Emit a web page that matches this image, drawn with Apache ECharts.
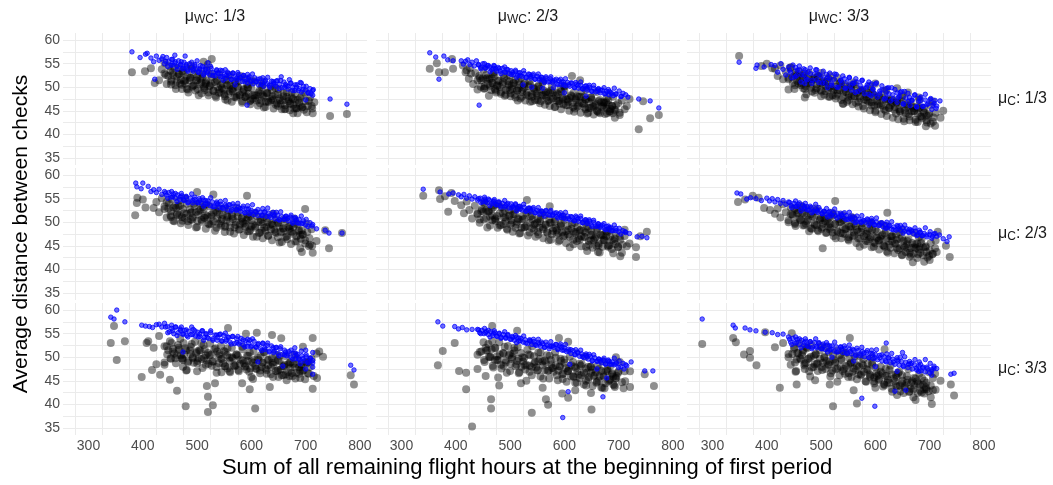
<!DOCTYPE html>
<html>
<head>
<meta charset="utf-8">
<script src="https://cdn.jsdelivr.net/npm/echarts@6/dist/echarts.min.js"></script>
<style>
html,body{margin:0;padding:0;background:#fff;}
#chart{width:1053px;height:485px;}
</style>
</head>
<body>
<div id="chart"></div>
<script>
// ---- labels / ticks ----
const colLabels = ['1/3', '2/3', '3/3'];   // mu_WC facets
const rowLabels = ['1/3', '2/3', '3/3'];   // mu_C facets
const xTickLabels = [300, 400, 500, 600, 700, 800];
const xGridValues = [275, 325, 375, 425, 475, 525, 575, 625, 675, 725, 775];
const yTickLabels = [35, 40, 45, 50, 55, 60];
const yGridValues = [35, 37.5, 40, 42.5, 45, 47.5, 50, 52.5, 55, 57.5, 60];
const xTitle = 'Sum of all remaining flight hours at the beginning of first period';
const yTitle = 'Average distance between checks';

// ---- data: [flight hours, avg distance] ----
// core x positions shared by the third black batch of every panel
const coreX = [447,452,456,463,466,472,476,483,487,492,498,501,506,513,516,521,526,530,537,540,546,551,555,560,566,569,575,579,584,589,594,598,603,607,613,616,621,626,630,636,639,645,649,654,658,663,668,672,677,683,688,694];

// row mu_C 1/3, col mu_WC 1/3
const p11Black = [[380,53.2],[404,53.4],[422,50.9],[677,44.5],[713,44.5],[745,43.9],[776,44.3],[415,54],[440,55.2],[430,51.5],
[435,53.8],[442,52.6],[448,54.5],[452,51.2],[455,53.1],[460,50.4],[463,52.2],[466,54.1],[470,51.6],[472,49.6],[475,53.0],[478,50.8],[481,52.4],[484,48.9],[486,51.5],[489,54.6],[491,50.1],[494,52.8],[497,49.3],[500,51.4],[502,53.4],[505,50.6],[508,48.7],[510,52.1],[513,49.8],[516,51.0],[518,53.6],[521,48.3],[524,50.4],[527,52.2],[530,49.2],[533,51.1],[535,47.8],[538,50.0],[541,52.8],[544,48.8],[547,50.8],[550,49.5],[552,47.4],[555,51.6],[558,48.6],[561,50.2],[564,46.9],[566,49.1],[569,51.3],[572,47.8],[575,49.9],[578,48.3],[580,52.4],[583,46.7],[586,49.4],[589,47.9],[592,50.6],[595,48.6],[598,46.4],[600,49.8],[603,47.5],[606,51.2],[609,48.3],[612,46.1],[615,49.3],[618,47.2],[620,50.4],[623,48.0],[626,45.8],[629,48.9],[632,46.8],[635,50.1],[638,47.6],[641,45.5],[644,48.4],[647,46.6],[650,49.6],[653,47.2],[656,45.3],[659,48.1],[662,46.2],[665,49.0],[668,47.0],[671,45.1],[674,47.8],[677,46.3],[680,48.6],[683,45.6],[686,47.3],[690,46.0],[693,48.2],[697,45.2],[700,47.1],[704,46.0],[708,47.8],[712,45.5],[716,46.8],
[560,52.6],[590,51.8],[620,51.2],[480,54.0],[520,54.8],[527,56.0],[512,55.4]];
const p11BlackB = [[440,52.9],[444,50.7],[451,53.5],[453,51.6],[458,54.2],[461,49.6],[467,52.8],[469,50.8],[473,53.4],[478,51.4],[481,49.7],[488,52.0],[490,53.9],[494,50.4],[500,52.1],[503,48.3],[508,51.0],[510,52.8],[514,49.4],[517,51.4],[523,50.2],[527,52.8],[534,48.2],[536,51.6],[541,49.5],[544,50.4],[550,48.5],[552,51.6],[556,47.2],[561,50.5],[564,49.5],[571,50.9],[573,48.2],[577,51.3],[583,47.0],[586,49.6],[591,48.2],[593,50.0],[597,47.0],[600,51.4],[606,48.3],[610,47.2],[617,48.6],[619,50.1],[623,45.7],[628,48.7],[631,47.0],[638,49.4],[640,47.3],[644,49.9],[649,46.0],[652,47.6],[659,48.7],[661,45.3],[665,47.9],[671,46.5],[674,48.9],[679,45.5],[681,47.3],[685,44.5],[690,47.7],[693,45.7],[699,48.8],[702,44.7],[706,47.1],[711,46.0]];
const p11CoreY = [52.4,50.6,52.6,51.2,52.8,50.5,51.3,49.5,52.0,50.3,51.4,49.6,51.8,50.2,50.7,48.9,50.8,49.3,51.3,48.8,49.8,48.1,50.4,49.1,49.7,47.9,50.1,48.4,49.0,47.9,49.9,47.2,48.3,47.7,48.9,46.6,48.3,46.9,48.7,47.2,48.1,46.3,48.5,46.5,47.2,45.4,47.5,46.6,47.5,45.5,46.7,45.8];
const p11Blue = [[380,57.5],[395,56.3],[405,57.0],[408,57.2],[422,51.7],[592,46.2],[713,48.3],[745,47.5],[776,46.4],[700,47.3],[570,50.5],[548,51.5],
[437,56.5],[459,56.8],[478,56.6],[500,55.6],[520,55.2],
[415,56.2],[420,55.4],[425,56.6],[430,55.7],[435,56.0],[440,55.0],[444,56.3],[448,55.4],[452,54.7],[455,55.9],[459,55.1],[463,54.4],[466,55.6],[470,54.8],[473,53.9],[476,55.3],[480,54.5],[483,53.7],[486,55.0],[490,54.2],[493,53.4],[496,54.8],[500,53.9],[503,53.1],[506,54.6],[510,53.7],[513,52.9],[516,54.3],[520,53.4],[523,52.6],[526,54.0],[530,53.1],[533,52.4],[536,53.7],[540,52.9],[543,52.2],[546,53.5],[550,52.7],[553,51.9],[556,53.2],[560,52.4],[563,51.7],[566,53.0],[570,52.2],[573,51.4],[576,52.7],[580,51.9],[583,51.2],[586,52.5],[590,51.7],[593,50.9],[596,52.2],[600,51.4],[603,50.7],[606,52.0],[610,51.2],[613,50.5],[616,51.8],[620,51.0],[623,50.2],[626,51.5],[630,50.7],[634,50.0],[637,51.3],
[641,50.9],[645,50.2],[648,51.4],[652,50.6],[656,49.9],[660,51.1],[664,50.3],[668,49.6],[672,50.8],[676,50.0],[680,49.3],[684,50.5],[688,49.7],[692,49.0],[696,50.2],[700,49.4],[705,48.8],[690,51.0],[670,51.6],[655,52.2],[710,48.6],[714,49.5]];
const p11BlueB = [[442,55.5],[446,54.4],[453,55.9],[455,54.7],[460,55.4],[463,53.8],[469,54.7],[471,55.4],[475,54.0],[480,54.8],[483,53.4],[490,55.3],[492,53.8],[496,54.5],[502,53.3],[505,53.9],[510,54.4],[512,52.6],[516,53.8],[519,53.1],[525,54.4],[529,52.5],[536,53.5],[538,53.0],[543,53.6],[546,52.3],[552,53.7],[554,52.5],[558,52.9],[563,51.6],[566,53.0],[573,51.9],[575,53.1],[579,52.1],[585,52.5],[588,51.2],[593,52.7],[595,51.9],[599,51.2],[602,52.8],[608,51.2],[612,51.7],[619,50.6],[621,52.0],[625,51.2],[630,52.1],[633,50.4],[640,51.2],[642,50.6],[646,51.3],[651,49.7],[654,51.4],[661,50.0],[663,50.6],[667,50.2],[673,50.9],[676,49.3],[681,50.5],[683,50.0],[687,49.3],[692,50.9],[695,49.5],[701,50.2],[704,48.8],[708,49.7],[713,49.3]];

// row mu_C 1/3, col mu_WC 2/3
const p12Black = [[352,53.9],[365,55.1],[369,53.2],[380,53.2],[395,53.9],[393,56.0],[737,41.1],[758,43.4],[774,44.1],[702,44.1],[689,44.5],[715,46.0],[695,46.2],[678,47.7],[629,51.5],[614,52.4],[720,47.5],[745,47.0],
[413,54.6],[418,53.2],[426,54.1],[420,53.6],[424,51.8],[428,52.9],
[432,50.7],[436,53.0],[440,51.5],[443,52.4],[446,50.1],[450,51.9],[453,49.8],[456,52.6],[459,50.7],[462,51.8],[465,49.4],[468,50.9],[471,52.3],[474,48.9],[477,50.3],[480,51.4],[483,49.0],[486,50.6],[489,52.0],[492,48.4],[495,49.9],[498,51.2],[501,48.1],[504,49.6],[507,50.9],[510,47.8],[513,49.3],[516,51.2],[519,47.6],[522,49.0],[525,50.5],[528,47.2],[531,48.8],[534,50.2],[537,46.9],[540,48.5],[543,49.9],[546,47.3],[549,48.7],[552,50.3],[555,46.6],[558,48.2],[561,49.4],[564,46.3],[567,47.8],[570,49.0],[573,46.0],[576,47.5],[579,48.8],[582,45.8],[585,47.2],[588,48.5],[591,46.5],[594,45.3],[597,47.8],[600,49.2],[603,46.2],[606,47.4],[609,45.0],[612,48.3],[615,46.7],[618,44.8],[621,47.3],[624,45.9],[627,48.0],[630,44.6],[633,46.6],[636,47.9],[639,45.3],[642,44.4],[645,46.9],[648,45.6],[651,47.4],[654,44.2],[657,46.2],[660,45.0],[663,47.0],[666,44.5],[669,45.8],[672,46.8],[675,44.3],[678,45.5],[681,46.3],[684,44.9],[688,46.0],[692,45.2],
[470,53.2],[520,52.0],[560,51.0],[600,50.3],[640,49.4],[500,52.5]];
const p12BlackB = [[440,49.5],[444,51.9],[451,53.7],[453,50.2],[458,52.0],[461,48.2],[467,50.9],[469,52.7],[473,49.3],[478,51.3],[481,50.1],[488,52.7],[490,48.2],[494,51.5],[500,49.4],[503,50.3],[508,48.4],[510,51.6],[514,47.2],[517,50.5],[523,49.5],[527,50.9],[534,48.2],[536,51.3],[541,47.0],[544,49.6],[550,48.2],[552,50.1],[556,47.1],[561,51.4],[564,48.4],[571,47.2],[573,48.7],[577,50.2],[583,45.8],[586,48.8],[591,47.1],[593,49.6],[597,47.5],[600,50.1],[606,46.2],[610,47.7],[617,48.8],[619,45.5],[623,48.1],[628,46.7],[631,49.1],[638,45.7],[640,47.4],[644,44.6],[649,47.8],[652,45.9],[659,49.0],[661,44.9],[665,47.3],[671,46.1],[674,46.7],[679,44.5],[681,47.3],[685,45.4],[690,48.0],[693,43.5],[699,46.6],[702,44.6],[706,47.2],[711,45.3]];
const p12CoreY = [51.5,49.7,51.7,50.3,51.9,49.6,50.4,48.6,51.1,49.4,50.5,48.7,50.9,49.3,49.8,48.0,49.9,48.4,50.5,48.0,49.0,47.3,49.6,48.3,48.9,47.1,49.3,47.6,48.2,47.1,49.1,46.4,47.5,46.9,48.1,45.8,47.6,46.2,48.0,46.5,47.4,45.6,47.8,45.8,46.5,44.7,46.8,45.9,46.8,44.8,46.0,45.1];
const p12Blue = [[352,57.3],[363,56.4],[369,51.7],[443,46.2],[737,47.5],[758,47.1],[774,45.6],[717,47.9],[705,48.1],[695,48.5],[524,50.5],[540,50.0],[560,49.8],[580,49.9],[600,48.8],[640,48.1],[378,56.6],[385,55.8],[395,55.6],
[410,55.6],[414,54.9],[418,55.5],[422,55.8],[426,54.8],[430,55.3],[434,54.5],[438,55.6],[442,54.7],[446,54.2],[450,55.0],[454,54.0],[458,54.6],[462,54.3],[466,53.7],[470,54.6],[474,53.9],[478,54.2],[482,53.4],[486,54.0],[490,53.2],[494,53.8],[498,52.9],[502,53.5],[506,52.7],[510,53.3],[514,52.5],[518,53.1],[522,52.3],[526,52.9],[530,52.1],[534,52.8],[538,51.9],[542,52.5],[546,51.7],[550,52.3],[554,51.5],[558,52.1],[562,51.3],[566,51.9],[570,51.1],[574,51.8],[578,51.0],[582,51.5],[586,50.7],[590,51.4],[594,50.5],[598,51.1],[602,50.3],[606,51.0],[610,50.2],[614,50.9],[618,50.0],[622,50.6],[626,49.8],[630,50.4],[634,49.6],[638,50.2],[642,49.4],[646,50.0],[650,49.2],[654,49.8],[658,49.0],[662,49.6],[666,48.8],[670,49.4],[674,48.6],[678,49.1],[682,48.4],[686,48.9],[690,48.2]];
const p12BlueB = [[442,54.8],[446,53.9],[453,55.0],[455,54.1],[460,54.6],[463,53.3],[469,54.0],[471,54.5],[475,53.4],[480,54.0],[483,52.9],[490,54.3],[492,53.2],[496,53.7],[502,52.7],[505,53.1],[510,53.6],[512,52.1],[516,53.0],[519,52.5],[525,53.5],[529,52.0],[536,52.7],[538,52.3],[543,52.8],[546,51.7],[552,52.8],[554,51.8],[558,52.1],[563,51.0],[566,52.2],[573,51.2],[575,52.2],[579,51.3],[585,51.7],[588,50.6],[593,51.7],[595,51.1],[599,50.5],[602,51.8],[608,50.5],[612,50.9],[619,49.9],[621,51.0],[625,50.4],[630,51.1],[633,49.7],[640,50.3],[642,49.8],[646,50.4],[651,49.1],[654,50.4],[661,49.2],[663,49.7],[667,49.3],[673,49.9],[676,48.6],[681,49.5],[683,49.1],[687,48.6],[692,49.8],[695,48.6],[701,49.2],[704,48.0],[708,48.7],[713,48.4]];

// row mu_C 1/3, col mu_WC 3/3
const p13Black = [[349,56.6],[710,41.8],[678,42.6],[390,54.5],[400,55.0],[410,54.0],[695,42.5],[720,43.5],[725,45.0],[705,47.0],[440,49.5],[470,47.8],[540,46.5],
[415,53.9],[420,52.4],[425,54.6],[430,51.7],[435,53.3],[440,52.0],[444,54.2],[448,50.9],[452,52.6],[456,51.3],[460,53.4],[463,50.4],[467,52.0],[470,49.6],[474,51.4],[478,53.0],[481,49.9],[485,51.7],[488,48.8],[492,50.6],[495,52.3],[499,49.4],[502,51.1],[506,48.4],[509,50.3],[513,51.9],[516,48.0],[520,49.7],[523,51.3],[527,47.6],[530,49.3],[534,50.8],[537,47.3],[541,48.9],[544,50.5],[548,46.9],[551,48.5],[555,50.1],[558,46.4],[562,48.1],[565,49.7],[569,45.9],[572,47.6],[576,49.3],[579,45.5],[583,47.3],[586,48.8],[590,45.1],[593,46.8],[597,48.4],[600,44.7],[604,46.4],[607,48.0],[611,44.3],[614,46.0],[618,47.5],[621,43.9],[625,45.6],[628,47.2],[632,43.5],[635,45.2],[639,46.8],[642,43.2],[646,44.8],[649,46.4],[653,42.8],[656,44.5],[660,46.0],[663,43.0],[667,44.9],[670,45.6],[674,42.6],[678,44.3],[682,45.7],[686,43.4],[690,44.6],[694,43.0],[698,44.0],[702,42.3],[707,43.6],
[560,51.0],[590,50.2],[620,49.4],[650,48.3],[600,50.8],[530,52.0],[500,53.0],[660,48.9],[680,47.8],[640,49.8]];
const p13BlackB = [[440,51.7],[444,54.2],[451,49.6],[453,53.0],[458,50.8],[461,51.7],[467,49.8],[469,52.9],[473,48.5],[478,51.7],[481,50.7],[488,52.0],[490,49.4],[494,52.4],[500,48.1],[503,50.7],[508,49.2],[510,51.1],[514,48.0],[517,52.4],[523,49.3],[527,48.2],[534,49.4],[536,51.0],[541,46.5],[544,49.5],[550,47.8],[552,50.2],[556,48.1],[561,50.6],[564,46.7],[571,48.1],[573,49.4],[577,46.0],[583,48.5],[586,47.1],[591,49.4],[593,46.1],[597,47.8],[600,45.0],[606,48.1],[610,46.1],[617,49.2],[619,45.0],[623,47.4],[628,46.2],[631,46.7],[638,44.4],[640,47.3],[644,45.3],[649,47.9],[652,43.3],[659,46.4],[661,44.3],[665,46.9],[671,44.9],[674,43.1],[679,45.5],[681,47.3],[685,43.8],[690,45.6],[693,41.7],[699,44.4],[702,46.1],[706,42.7],[711,44.6]];
const p13CoreY = [52.2,50.4,52.4,50.9,52.5,50.2,50.9,49.1,51.6,49.8,50.9,49.1,51.2,49.6,50.1,48.3,50.1,48.6,50.5,48.0,49.0,47.3,49.5,48.2,48.8,46.9,49.1,47.4,47.9,46.8,48.8,46.1,47.1,46.5,47.7,45.3,47.0,45.6,47.4,45.8,46.7,44.9,47.0,45.0,45.7,43.8,45.9,45.0,45.9,43.8,45.0,44.0];
const p13Blue = [[349,55.3],[382,54.7],[395,54.3],[408,54.8],[470,50.8],[380,54.0],[719,47.1],[712,45.5],
[415,54.6],[420,53.2],[426,55.0],[430,53.8],[435,52.6],[440,54.3],[444,53.1],[448,54.7],[452,52.2],[456,53.6],[460,54.5],[464,52.6],[468,53.9],[472,51.8],[476,53.2],[480,54.1],[484,51.5],[488,52.8],[492,53.7],[496,51.0],[500,52.4],[504,53.4],[508,50.8],[512,52.0],[516,53.0],[520,50.4],[524,51.7],[528,52.7],[532,50.0],[536,51.4],[540,52.4],[544,49.8],[548,51.1],[552,52.1],[556,49.4],[560,50.8],[564,51.8],[568,49.1],[572,50.4],[576,51.5],[580,48.6],[584,50.0],[588,51.1],[592,48.2],[596,49.6],[600,50.7],[604,47.9],[608,49.2],[612,50.3],[616,47.5],[620,48.8],[624,49.9],[628,47.1],[632,48.4],[636,49.5],[640,46.8],[644,48.0],[648,49.1],[652,46.4],[656,47.7],[660,48.7],[664,46.1],[668,47.3],[672,48.3],[676,45.8],[680,47.0],[684,47.9],[688,45.9],[692,47.3],[697,46.5],[702,47.6],[706,46.2],[710,47.2]];
const p13BlueB = [[442,53.6],[446,52.0],[453,54.2],[455,52.5],[460,53.6],[463,51.1],[469,52.7],[471,53.7],[475,51.6],[480,52.9],[483,50.8],[490,53.7],[492,51.6],[496,52.7],[502,50.9],[505,51.7],[510,52.7],[512,49.9],[516,51.8],[519,50.8],[525,52.8],[529,50.0],[536,51.5],[538,50.8],[543,51.8],[546,49.8],[552,52.0],[554,50.2],[558,50.9],[563,48.9],[566,51.1],[573,49.5],[575,51.4],[579,49.8],[585,50.5],[588,48.5],[593,50.7],[595,49.6],[599,48.6],[602,50.9],[608,48.6],[612,49.4],[619,47.7],[621,49.8],[625,48.6],[630,49.9],[633,47.5],[640,48.8],[642,47.8],[646,48.9],[651,46.5],[654,49.1],[661,47.0],[663,47.8],[667,47.2],[673,48.4],[676,45.9],[681,47.7],[683,47.1],[687,46.0],[692,48.5],[695,46.3],[701,47.4],[704,45.3],[708,46.6],[713,46.0]];

// row mu_C 2/3, col mu_WC 1/3
const p21Black = [[386,51.5],[389,54.1],[390,55.2],[400,54.8],[405,53.1],[420,53.0],[500,56.4],[530,55.9],[592,55.6],[693,43.7],[713,43.5],[743,44.5],[767,47.7],[736,48.3],[699,52.8],[720,46.0],[708,45.2],[690,44.5],
[425,54.3],[430,52.1],[435,55.1],[440,53.4],[444,51.0],[448,54.0],[452,52.4],[456,50.3],[460,53.5],[463,51.6],[467,54.6],[470,49.8],[474,52.8],[477,50.9],[481,53.9],[484,49.4],[488,52.0],[491,50.5],[495,53.4],[498,48.9],[502,51.6],[505,54.0],[509,50.1],[512,52.7],[516,48.6],[519,51.2],[523,53.4],[526,49.7],[530,52.0],[533,48.2],[537,50.8],[540,53.0],[544,49.3],[547,51.6],[551,47.9],[554,50.4],[558,52.6],[561,48.9],[565,51.2],[568,47.6],[572,50.0],[575,52.1],[579,48.5],[582,50.8],[586,47.3],[589,49.6],[593,51.7],[596,48.1],[600,50.4],[603,46.9],[607,49.2],[610,51.3],[614,47.7],[617,50.0],[621,46.6],[624,48.8],[628,50.9],[631,47.2],[635,49.5],[638,46.2],[642,48.4],[645,50.6],[649,46.8],[652,49.1],[656,45.8],[659,48.0],[663,50.2],[666,46.4],[670,48.6],[673,45.4],[677,47.5],[680,49.6],[684,45.9],[687,48.1],[691,46.5],[695,47.4],[699,45.5],[703,47.9],[707,46.6],[712,45.0]];
const p21BlackB = [[440,52.8],[444,54.3],[451,51.4],[453,54.9],[458,50.2],[461,53.0],[467,51.5],[469,53.5],[473,50.3],[478,55.1],[481,51.8],[488,50.6],[490,52.1],[494,53.9],[500,49.0],[503,52.3],[508,50.5],[510,53.2],[514,50.9],[517,53.8],[523,49.5],[527,51.2],[534,52.5],[536,48.8],[541,51.7],[544,50.2],[550,52.9],[552,49.2],[556,51.1],[561,48.0],[564,51.6],[571,49.4],[573,53.0],[577,48.4],[583,51.0],[586,49.8],[591,50.4],[593,48.1],[597,51.2],[600,49.1],[606,52.0],[610,46.9],[617,50.5],[619,48.2],[623,51.1],[628,49.0],[631,47.1],[638,49.7],[640,51.8],[644,47.9],[649,49.9],[652,45.7],[659,48.7],[661,50.7],[665,47.0],[671,49.2],[674,47.9],[679,50.8],[681,45.9],[685,49.6],[690,47.3],[693,48.3],[699,46.2],[702,49.7],[706,44.9],[711,48.5]];
const p21CoreY = [52.9,51.1,53.1,51.8,53.4,51.1,51.9,50.2,52.7,51.0,52.1,50.3,52.6,51.0,51.5,49.7,51.6,50.2,52.2,49.7,50.7,49.0,51.4,50.1,50.7,48.9,51.2,49.5,50.1,49.0,51.0,48.4,49.5,48.9,50.1,47.8,49.6,48.2,50.0,48.5,49.4,47.7,49.9,47.9,48.6,46.8,49.0,48.1,49.0,47.0,48.3,47.4];
const p21Blue = [[387,58.3],[389,57.5],[400,58.3],[397,57.1],[410,57.6],[415,56.5],[736,48.3],[743,47.7],[767,47.7],[720,48.6],[712,49.2],
[420,56.9],[425,56.3],[430,57.0],[435,55.9],[440,56.5],[444,55.7],[448,56.3],[452,55.3],[456,56.0],[460,55.1],[464,55.8],[468,54.8],[472,55.6],[476,54.6],[480,55.3],[484,54.3],[488,55.1],[492,54.1],[496,54.8],
[500,54.2],[504,55.0],[508,54.0],[512,54.7],[516,53.8],[520,54.5],[524,53.5],[528,54.3],[532,53.3],[536,54.0],[540,53.1],[544,53.8],[548,52.9],[552,53.6],[556,52.6],
[560,53.7],[564,52.7],[568,53.4],[572,52.5],[576,53.2],[580,52.3],[584,53.0],[588,52.0],[592,52.8],[596,51.8],[600,52.5],[604,51.6],[608,52.3],[612,51.4],[616,52.1],
[620,51.4],[624,52.2],[628,51.2],[632,51.9],[636,51.0],[640,51.7],[644,50.7],[648,51.5],[652,50.5],[656,51.2],
[660,50.6],[664,51.3],[668,50.3],[672,51.1],[676,50.1],[680,50.8],[684,49.9],[688,50.6],[692,49.7],[696,50.3],[700,49.4]];
const p21BlueB = [[442,56.2],[446,55.1],[453,56.5],[455,55.4],[460,56.1],[463,54.4],[469,55.4],[471,56.1],[475,54.7],[480,55.5],[483,54.1],[490,56.0],[492,54.6],[496,55.3],[502,54.1],[505,54.6],[510,55.2],[512,53.4],[516,54.6],[519,53.9],[525,55.2],[529,53.3],[536,54.3],[538,53.8],[543,54.4],[546,53.1],[552,54.6],[554,53.3],[558,53.7],[563,52.4],[566,53.9],[573,52.7],[575,54.0],[579,52.9],[585,53.4],[588,52.0],[593,53.5],[595,52.8],[599,52.1],[602,53.7],[608,52.1],[612,52.7],[619,51.5],[621,52.9],[625,52.1],[630,53.0],[633,51.3],[640,52.1],[642,51.4],[646,52.1],[651,50.5],[654,52.2],[661,50.7],[663,51.2],[667,50.8],[673,51.5],[676,49.8],[681,51.0],[683,50.5],[687,49.8],[692,51.3],[695,49.8],[701,50.6],[704,49.1],[708,49.9],[713,49.5]];

// row mu_C 2/3, col mu_WC 2/3
const p22Black = [[340,55.6],[369,56.8],[371,54.9],[386,52.2],[392,56.2],[642,43.9],[662,43.7],[703,42.8],[732,42.6],[732,44.7],[752,48.0],[531,54.7],[573,53.4],[740,47.0],[720,45.5],[380,55.5],[398,54.5],
[410,53.6],[415,51.9],[420,54.4],[425,52.6],[430,50.8],[435,53.5],[440,51.7],[444,49.9],[448,52.8],[452,54.3],[456,50.9],[460,52.3],[463,49.3],[467,51.5],[470,53.6],[474,50.2],[477,48.8],[481,51.9],[484,53.2],[488,49.6],[491,51.0],[495,48.4],[498,52.6],[502,50.4],[505,48.0],[509,51.7],[512,49.5],[516,53.0],[519,47.7],[523,50.6],[526,48.9],[530,52.0],[533,47.2],[537,49.9],[540,51.4],[544,48.4],[547,46.9],[551,50.7],[554,48.9],[558,51.9],[561,46.6],[565,49.4],[568,47.9],[572,50.6],[575,46.3],[579,48.7],[582,50.1],[586,47.4],[589,45.9],[593,49.3],[596,47.8],[600,50.5],[603,45.6],[607,48.4],[610,46.9],[614,49.6],[617,45.3],[621,47.6],[624,49.0],[628,46.3],[631,44.9],[635,48.2],[638,46.8],[642,49.1],[645,45.2],[649,47.3],[652,44.6],[656,46.6],[659,48.4],[663,45.5],[666,47.4],[670,44.8],[673,46.4],[677,48.1],[680,45.0],[684,46.9],[687,44.3],[691,46.0],[695,47.6],[699,44.7],[703,46.3],[707,45.2],[711,47.1],[715,44.9]];
const p22BlackB = [[440,51.9],[444,50.6],[451,52.2],[453,53.9],[458,48.9],[461,52.4],[467,50.4],[469,53.2],[473,50.8],[478,53.8],[481,49.3],[488,51.0],[490,52.5],[494,48.6],[500,51.5],[503,49.9],[508,52.7],[510,48.8],[514,50.8],[517,47.6],[523,51.3],[527,49.0],[534,52.6],[536,47.8],[541,50.6],[544,49.4],[550,49.9],[552,47.4],[556,50.7],[561,48.5],[564,51.5],[571,46.2],[573,49.9],[577,47.5],[583,50.5],[586,48.3],[591,46.2],[593,49.1],[597,51.2],[600,47.2],[606,49.2],[610,44.7],[617,47.9],[619,49.9],[623,46.0],[628,48.3],[631,47.0],[638,49.9],[640,44.8],[644,48.6],[649,46.2],[652,47.3],[659,45.0],[661,48.6],[665,43.6],[671,47.3],[674,46.2],[679,47.8],[681,44.8],[685,48.4],[690,43.4],[693,46.5],[699,44.8],[702,46.9],[706,43.5],[711,48.4]];
const p22CoreY = [52.4,50.6,52.6,51.2,52.8,50.5,51.3,49.4,51.9,50.2,51.3,49.5,51.7,50.1,50.6,48.8,50.7,49.2,51.2,48.7,49.6,47.9,50.2,48.9,49.5,47.7,49.9,48.2,48.8,47.7,49.7,47.0,48.1,47.4,48.6,46.3,48.0,46.6,48.4,46.9,47.8,46.0,48.2,46.2,46.9,45.1,47.2,46.2,47.1,45.1,46.3,45.4];
const p22Blue = [[340,57.0],[371,56.4],[387,56.0],[395,56.2],[405,55.8],[734,46.9],[752,46.7],[743,47.0],[720,47.6],[712,48.0],
[410,55.4],[415,55.9],[420,55.1],[425,55.6],[430,54.9],[435,55.4],[440,54.7],[445,55.1],[450,54.3],[454,54.9],[458,54.1],[462,54.7],[466,53.9],[470,54.5],[474,53.7],[478,54.3],[482,53.5],[486,54.0],[490,53.2],[494,53.8],[498,53.0],
[502,53.9],[506,53.1],[510,53.7],[514,52.9],[518,53.4],[522,52.6],[526,53.2],[530,52.4],[534,53.0],[538,52.2],[542,52.8],[546,52.0],[550,52.5],[554,51.7],[558,52.3],
[562,51.8],[566,52.4],[570,51.6],[574,52.2],[578,51.4],[582,51.9],[586,51.2],[590,51.7],[594,51.0],[598,51.5],[602,50.7],[606,51.3],[610,50.5],[614,51.1],[618,50.3],
[622,51.0],[626,50.2],[630,50.8],[634,49.9],[638,50.5],[642,49.7],[646,50.2],[650,49.4],[654,50.0],[658,49.1],[662,49.7],[666,48.9],[670,49.4],[674,48.6],[678,49.1],[682,48.4],[686,48.9],[690,48.2],[695,48.7],[700,48.0]];
const p22BlueB = [[442,55.0],[446,54.2],[453,55.3],[455,54.4],[460,54.9],[463,53.5],[469,54.3],[471,54.8],[475,53.7],[480,54.3],[483,53.2],[490,54.6],[492,53.5],[496,54.0],[502,53.0],[505,53.4],[510,53.9],[512,52.4],[516,53.3],[519,52.8],[525,53.8],[529,52.3],[536,53.0],[538,52.6],[543,53.1],[546,52.0],[552,53.1],[554,52.1],[558,52.4],[563,51.3],[566,52.5],[573,51.5],[575,52.5],[579,51.6],[585,52.0],[588,50.9],[593,52.0],[595,51.4],[599,50.9],[602,52.1],[608,50.8],[612,51.2],[619,50.3],[621,51.3],[625,50.7],[630,51.3],[633,49.9],[640,50.5],[642,50.0],[646,50.5],[651,49.1],[654,50.4],[661,49.2],[663,49.6],[667,49.2],[673,49.7],[676,48.4],[681,49.2],[683,48.8],[687,48.2],[692,49.4],[695,48.2],[701,48.7],[704,47.5],[708,48.2],[713,47.8]];

// row mu_C 2/3, col mu_WC 3/3
const p23Black = [[347,54.3],[374,55.6],[385,55.2],[406,52.6],[415,51.8],[503,44.5],[526,54.5],[622,52.0],[737,42.6],[713,43.7],[669,41.5],[715,48.0],[360,54.8],[395,53.0],[730,45.0],[700,42.0],
[420,52.9],[425,51.0],[430,53.8],[435,52.1],[440,50.4],[444,53.2],[448,51.4],[452,49.6],[456,52.6],[460,50.8],[463,53.5],[467,49.3],[470,51.9],[474,50.2],[477,52.8],[481,48.7],[484,51.2],[488,49.6],[491,52.3],[495,48.1],[498,50.7],[502,49.0],[505,51.8],[509,47.7],[512,50.1],[516,48.5],[519,51.2],[523,47.1],[526,49.6],[530,48.0],[533,50.7],[537,46.6],[540,49.0],[544,47.5],[547,50.2],[551,46.1],[554,48.5],[558,47.0],[561,49.7],[565,45.6],[568,48.0],[572,46.5],[575,49.1],[579,45.2],[582,47.5],[586,46.0],[589,48.6],[593,44.7],[596,47.0],[600,45.5],[603,48.0],[607,44.2],[610,46.5],[614,45.1],[617,47.6],[621,43.8],[624,46.0],[628,44.6],[631,47.0],[635,43.4],[638,45.5],[642,44.1],[645,46.5],[649,43.0],[652,45.0],[656,43.7],[659,46.0],[663,42.7],[666,44.6],[670,43.3],[673,45.3],[677,42.4],[680,44.2],[684,45.6],[688,43.0],[692,44.7],[696,42.5],[700,44.0],[705,43.2],[710,44.5],
[520,52.0],[560,50.8],[590,50.0],[620,49.2],[650,48.3],[680,46.8],[540,51.5],[610,49.6]];
const p23BlackB = [[440,50.0],[444,51.7],[451,52.9],[453,49.2],[458,52.0],[461,50.5],[467,53.1],[469,49.4],[473,51.3],[478,48.1],[481,51.7],[488,49.4],[490,52.9],[494,48.3],[500,50.9],[503,49.7],[508,50.2],[510,47.8],[514,50.9],[517,48.8],[523,51.6],[527,46.6],[534,50.0],[536,47.7],[541,50.5],[544,48.5],[550,46.4],[552,49.1],[556,51.1],[561,47.2],[564,49.2],[571,44.8],[573,47.9],[577,49.8],[583,46.0],[586,48.2],[591,46.8],[593,49.7],[597,44.8],[600,48.4],[606,46.1],[610,47.0],[617,44.8],[619,48.3],[623,43.5],[628,47.0],[631,46.0],[638,47.4],[640,44.5],[644,47.9],[649,43.1],[652,46.0],[659,44.4],[661,46.4],[665,43.1],[671,47.7],[674,44.5],[679,43.2],[681,44.8],[685,46.4],[690,41.6],[693,44.9],[699,42.9],[702,45.6],[706,43.3],[711,46.1]];
const p23CoreY = [51.7,49.9,51.9,50.4,52.0,49.7,50.5,48.6,51.1,49.4,50.4,48.6,50.8,49.2,49.6,47.8,49.7,48.2,50.1,47.6,48.6,46.8,49.1,47.8,48.4,46.5,48.7,47.0,47.6,46.4,48.4,45.7,46.7,46.1,47.3,45.0,46.6,45.2,47.0,45.5,46.3,44.5,46.7,44.7,45.3,43.5,45.6,44.7,45.5,43.5,44.7,43.7];
const p23Blue = [[345,56.2],[352,56.0],[363,54.9],[370,55.2],[380,55.0],[390,54.6],[736,46.9],[732,45.9],[718,47.3],[725,46.5],
[400,55.1],[405,54.5],[410,55.0],[415,54.3],[420,54.8],[425,54.0],[430,54.6],[435,53.8],[440,54.3],[445,53.5],[450,54.0],[454,53.3],[458,53.8],[462,53.0],[466,53.6],[470,52.8],[474,53.3],[478,52.6],[482,53.1],[486,52.3],[490,52.8],[494,52.1],[498,52.6],[502,51.8],[506,52.3],[510,51.6],[514,52.1],[518,51.3],
[522,52.1],[526,51.4],[530,51.9],[534,51.1],[538,51.6],[542,50.9],[546,51.4],[550,50.6],[554,51.1],[558,50.4],[562,50.9],[566,50.1],[570,50.6],[574,49.9],[578,50.4],
[582,50.0],[586,50.5],[590,49.8],[594,50.3],[598,49.5],[602,50.0],[606,49.3],[610,49.8],[614,49.0],[618,49.5],[622,48.8],[626,49.3],[630,48.5],[634,49.0],[638,48.3],
[642,49.1],[646,48.3],[650,48.8],[654,48.1],[658,48.6],[662,47.8],[666,48.3],[670,47.6],[674,48.1],[678,47.3],[682,47.8],[686,47.1],[690,47.6],[695,46.9],[700,47.4],[705,47.0],[710,47.6]];
const p23BlueB = [[442,54.2],[446,53.1],[453,54.5],[455,53.4],[460,54.1],[463,52.4],[469,53.3],[471,54.0],[475,52.6],[480,53.4],[483,52.0],[490,53.8],[492,52.4],[496,53.1],[502,51.8],[505,52.3],[510,52.9],[512,51.1],[516,52.3],[519,51.6],[525,52.8],[529,50.9],[536,51.9],[538,51.4],[543,52.0],[546,50.6],[552,52.1],[554,50.8],[558,51.2],[563,49.9],[566,51.3],[573,50.1],[575,51.4],[579,50.3],[585,50.7],[588,49.4],[593,50.8],[595,50.1],[599,49.4],[602,50.9],[608,49.4],[612,49.9],[619,48.7],[621,50.0],[625,49.2],[630,50.1],[633,48.4],[640,49.3],[642,48.6],[646,49.3],[651,47.7],[654,49.4],[661,47.9],[663,48.5],[667,48.1],[673,48.8],[676,47.2],[681,48.3],[683,47.9],[687,47.2],[692,48.8],[695,47.3],[701,48.0],[704,46.6],[708,47.5],[713,47.0]];

// row mu_C 3/3, col mu_WC 1/3
const p31Black = [[341,53.0],[347,56.6],[352,49.4],[367,53.4],[398,45.8],[407,53.0],[410,53.4],[417,47.3],[432,46.3],[425,48.5],[440,48.9],[450,45.2],[463,42.9],[479,39.6],[474,49.4],[474,48.0],[480,47.2],[518,43.9],[520,41.6],[520,38.4],[529,39.8],[533,44.5],[583,44.5],[597,43.2],[603,45.4],[607,39.1],[634,43.7],[695,52.2],[713,54.1],[713,43.3],[721,45.6],[732,50.1],[783,46.2],[789,44.2],[557,56.2],[638,54.7],[590,55.0],[545,46.8],[560,47.0],[500,47.0],[420,52.0],[430,54.5],[720,50.8],[725,51.2],[705,49.0],[715,46.0],[690,45.6],[670,46.0],[650,45.8],[655,54.0],[610,55.2],
[440,52.3],[445,50.6],[450,53.4],[455,51.2],[460,49.8],[465,52.6],[470,50.4],[475,53.0],[480,51.5],[484,49.2],[488,52.2],[492,50.0],[496,53.3],[500,48.7],[504,51.5],[508,49.6],[512,52.6],[516,48.4],[520,50.9],[524,52.9],[528,49.1],[532,51.7],[536,47.9],[540,50.3],[544,52.4],[548,48.7],[552,51.1],[556,47.6],[560,49.9],[564,52.0],[568,48.3],[572,50.6],[576,47.3],[580,49.5],[584,51.7],[588,48.0],[592,50.3],[596,46.9],[600,49.1],[604,51.3],[608,47.6],[612,49.9],[616,46.6],[620,48.8],[624,51.0],[628,47.3],[632,49.5],[636,46.4],[640,48.4],[644,50.6],[648,47.0],[652,49.2],[656,46.2],[660,48.1],[664,50.2],[668,46.8],[672,48.9],[676,46.0],[680,47.8],[684,49.7],[688,46.5],[692,48.5],[696,47.2],[700,49.0],[704,46.6],[708,48.0]];
const p31BlackB = [[440,48.4],[444,52.3],[451,49.8],[453,53.0],[458,50.8],[461,48.7],[467,51.6],[469,53.9],[473,49.7],[478,51.9],[481,47.3],[488,50.7],[490,52.8],[494,48.8],[500,51.2],[503,49.8],[508,53.0],[510,47.7],[514,51.7],[517,49.3],[523,50.4],[527,48.2],[534,51.9],[536,46.7],[541,50.7],[544,49.6],[550,51.3],[552,48.1],[556,51.9],[561,46.8],[564,50.0],[571,48.3],[573,50.6],[577,47.0],[583,52.2],[586,48.7],[591,47.4],[593,49.2],[597,51.0],[600,45.8],[606,49.5],[610,47.5],[617,50.4],[619,47.9],[623,51.1],[628,46.5],[631,48.3],[638,49.8],[640,45.8],[644,49.0],[649,47.3],[652,50.3],[659,46.2],[661,48.4],[665,45.1],[671,48.9],[674,46.6],[679,50.5],[681,45.5],[685,48.5],[690,47.2],[693,47.9],[699,45.3],[702,48.7],[706,46.5],[711,49.6]];
const p31CoreY = [51.5,49.7,51.8,50.4,52.0,49.8,50.6,48.9,51.4,49.8,50.9,49.2,51.4,49.9,50.4,48.6,50.6,49.1,51.2,48.7,49.7,48.1,50.4,49.2,49.8,48.1,50.3,48.6,49.3,48.2,50.3,47.6,48.8,48.2,49.4,47.2,48.9,47.6,49.4,47.9,48.9,47.1,49.4,47.4,48.1,46.4,48.5,47.7,48.6,46.7,47.9,47.1];
const p31Blue = [[341,58.5],[347,58.1],[352,60.0],[367,57.5],[398,56.8],[405,56.6],[412,56.5],[418,56.3],[425,56.9],[430,57.0],[435,56.4],[440,57.2],
[783,48.3],[789,47.3],[713,46.4],[474,51.1],[612,49.0],[658,48.1],[700,47.5],[690,48.6],[713,47.9],[680,52.0],[700,51.5],[713,51.0],
[445,56.5],[449,55.4],[453,56.1],[457,55.0],[461,56.4],[465,55.2],[469,56.0],[473,54.9],[477,55.7],[481,54.6],[485,55.5],[489,54.8],[493,55.9],[497,54.5],[501,55.3],[505,54.4],[509,55.6],[513,54.2],[517,55.0],[521,54.0],[525,55.2],[529,53.9],[533,54.7],[537,53.6],[541,54.8],[545,53.5],[549,54.6],[553,53.4],[557,54.3],[561,53.2],[565,54.4],[569,52.9],[573,53.9],[577,52.8],[581,54.0],[585,52.6],[589,53.5],[593,52.3],[597,53.6],[601,52.4],[605,53.4],[609,52.1],[613,52.9],[617,51.8],[621,53.0],[625,51.6],[629,52.5],[633,51.3],[637,52.4],[641,51.0],[645,52.0],[649,50.8],[653,51.8],[657,50.6],[661,51.5],[665,50.3],[669,51.2],[673,50.0],[677,50.9],[681,49.7],[685,50.6],[689,49.5],[693,50.3],[697,49.2],[701,50.1],[705,49.0],[709,49.8],[713,48.8]];
const p31BlueB = [[442,56.4],[446,55.2],[453,56.8],[455,55.6],[460,56.4],[463,54.6],[469,55.7],[471,56.4],[475,54.9],[480,55.8],[483,54.3],[490,56.4],[492,54.8],[496,55.6],[502,54.3],[505,54.9],[510,55.6],[512,53.6],[516,54.9],[519,54.2],[525,55.6],[529,53.6],[536,54.7],[538,54.2],[543,54.9],[546,53.4],[552,55.1],[554,53.7],[558,54.2],[563,52.8],[566,54.4],[573,53.1],[575,54.4],[579,53.2],[585,53.7],[588,52.2],[593,53.8],[595,53.0],[599,52.2],[602,53.9],[608,52.2],[612,52.7],[619,51.4],[621,52.9],[625,52.0],[630,53.0],[633,51.1],[640,52.0],[642,51.3],[646,52.1],[651,50.3],[654,52.2],[661,50.5],[663,51.1],[667,50.7],[673,51.5],[676,49.6],[681,50.9],[683,50.4],[687,49.6],[692,51.3],[695,49.7],[701,50.5],[704,48.8],[708,49.8],[713,49.3]];

// row mu_C 3/3, col mu_WC 2/3
const p32Black = [[367,48.3],[376,51.3],[398,53.0],[406,47.1],[419,46.7],[419,43.2],[430,35.3],[465,41.1],[465,39.1],[467,56.6],[478,45.7],[540,38.2],[566,41.1],[570,39.9],[596,42.3],[607,41.4],[650,38.9],[649,42.4],[695,50.0],[695,45.6],[712,44.9],[709,43.4],[721,43.7],[721,47.0],[748,46.4],[765,43.9],[513,55.6],[590,54.1],[607,53.3],[440,50.5],[455,52.0],[480,44.0],[520,44.5],[530,45.0],[560,43.5],[620,43.0],[640,44.0],[670,43.5],[690,44.2],[700,47.0],[455,46.0],
[460,52.8],[464,50.1],[468,48.2],[472,51.9],[476,49.4],[480,53.2],[484,47.6],[488,50.8],[492,48.9],[496,52.4],[500,47.1],[504,50.0],[508,52.0],[512,48.4],[516,46.6],[520,50.9],[524,49.1],[528,47.4],[532,51.6],[536,48.2],[540,46.2],[544,50.2],[548,47.8],[552,51.0],[556,45.9],[560,49.1],[564,47.3],[568,50.4],[572,45.5],[576,48.5],[580,46.9],[584,49.9],[588,45.1],[592,48.0],[596,46.4],[600,49.5],[604,44.8],[608,47.5],[612,45.9],[616,49.0],[620,44.6],[624,47.0],[628,45.6],[632,48.5],[636,44.2],[640,46.6],[644,45.2],[648,48.0],[652,43.9],[656,46.2],[660,44.8],[664,47.5],[668,43.6],[672,45.9],[676,44.5],[680,47.1],[684,45.3],[688,46.6],[692,44.0],[696,46.0]];
const p32BlackB = [[440,47.5],[444,51.1],[451,53.2],[453,49.0],[458,51.5],[461,50.1],[467,53.4],[469,47.8],[473,52.0],[478,49.4],[481,50.6],[488,48.2],[490,52.2],[494,46.7],[500,50.8],[503,49.6],[508,51.4],[510,48.1],[514,52.1],[517,46.8],[523,50.0],[527,48.3],[534,50.6],[536,46.9],[541,52.3],[544,48.6],[550,47.2],[552,49.1],[556,51.0],[561,45.5],[564,49.3],[571,47.2],[573,50.3],[577,47.7],[583,51.0],[586,46.2],[591,48.1],[593,49.7],[597,45.4],[600,48.8],[606,47.0],[610,50.1],[617,45.8],[619,48.0],[623,44.6],[628,48.6],[631,46.2],[638,50.1],[640,45.0],[644,48.0],[649,46.7],[652,47.4],[659,44.6],[661,48.2],[665,45.9],[671,49.1],[674,43.4],[679,47.5],[681,44.9],[685,48.2],[690,45.9],[693,43.7],[699,46.7],[702,49.0],[706,44.7],[711,47.0]];
const p32CoreY = [51.2,49.4,51.4,50.0,51.7,49.4,50.2,48.4,50.9,49.3,50.4,48.6,50.8,49.2,49.7,48.0,49.9,48.4,50.4,47.9,49.0,47.3,49.6,48.3,48.9,47.1,49.4,47.7,48.3,47.2,49.2,46.5,47.7,47.1,48.3,46.0,47.7,46.3,48.2,46.7,47.6,45.8,48.0,46.0,46.8,45.0,47.1,46.2,47.1,45.1,46.4,45.5];
const p32Blue = [[367,57.5],[376,56.6],[398,56.5],[405,56.0],[412,56.3],[420,55.8],[430,55.9],[748,47.1],[763,47.1],[723,49.0],[710,47.5],[597,37.2],[607,42.7],[671,41.6],[678,45.6],[610,48.5],[660,47.5],[700,47.8],[715,48.2],
[440,55.9],[444,55.2],[448,55.7],[452,55.0],[456,55.5],[460,54.8],[464,55.4],[468,54.6],[472,55.2],[476,54.4],[480,55.0],[484,54.2],[488,54.8],[492,54.0],[496,54.6],[500,53.8],[504,54.4],[508,53.6],[512,54.2],[516,53.4],[520,54.0],[524,53.2],[528,53.7],[532,52.9],[536,53.5],[540,52.7],[544,53.3],[548,52.5],[552,53.1],[556,52.3],[560,52.9],[564,52.1],[568,52.6],[572,51.8],[576,52.3],
[580,52.1],[584,52.7],[588,51.8],[592,52.4],[596,51.5],[600,52.0],[604,51.2],[608,51.7],[612,50.8],[616,51.4],[620,50.5],[624,51.1],[628,50.2],[632,50.7],[636,49.9],[640,50.4],[644,49.6],[648,50.2],[652,49.3],[656,49.9],[660,49.1],[664,49.6],[668,48.8],[672,49.4],[676,48.6],[680,49.2],[684,48.5],[688,49.0],[692,48.4],[696,48.8]];
const p32BlueB = [[442,55.8],[446,55.0],[453,56.1],[455,55.2],[460,55.7],[463,54.3],[469,55.1],[471,55.6],[475,54.5],[480,55.1],[483,54.0],[490,55.4],[492,54.2],[496,54.8],[502,53.8],[505,54.2],[510,54.6],[512,53.1],[516,54.1],[519,53.5],[525,54.5],[529,53.0],[536,53.7],[538,53.4],[543,53.8],[546,52.7],[552,53.8],[554,52.8],[558,53.2],[563,52.1],[566,53.2],[573,52.3],[575,53.3],[579,52.4],[585,52.7],[588,51.6],[593,52.8],[595,52.1],[599,51.5],[602,52.7],[608,51.3],[612,51.6],[619,50.6],[621,51.6],[625,50.9],[630,51.5],[633,50.1],[640,50.7],[642,50.1],[646,50.6],[651,49.2],[654,50.5],[661,49.2],[663,49.6],[667,49.2],[673,49.8],[676,48.5],[681,49.4],[683,49.1],[687,48.5],[692,49.8],[695,48.6],[701,49.2],[704,48.0],[708,48.7],[713,48.4]];

// row mu_C 3/3, col mu_WC 3/3
const p33Black = [[281,52.8],[338,54.1],[343,53.2],[358,50.6],[369,51.3],[369,49.9],[381,48.3],[397,55.3],[415,52.1],[424,43.5],[454,47.1],[455,44.2],[446,55.1],[480,45.9],[489,45.1],[516,44.2],[522,39.6],[566,40.2],[553,54.1],[617,51.7],[706,43.0],[704,40.1],[739,44.2],[745,41.9],[430,53.0],[440,50.0],[470,47.5],[530,44.8],[560,43.0],[640,42.0],[670,41.5],[690,42.3],[710,46.5],[720,45.0],[600,43.5],
[450,51.8],[455,49.5],[460,52.9],[465,50.4],[470,48.6],[474,51.9],[478,49.8],[482,52.6],[486,47.9],[490,50.6],[494,48.7],[498,51.5],[502,47.3],[506,49.9],[510,52.1],[514,48.3],[518,46.6],[522,50.6],[526,48.8],[530,51.4],[534,46.2],[538,49.4],[542,47.5],[546,50.9],[550,45.8],[554,48.6],[558,46.9],[562,50.2],[566,45.3],[570,48.0],[574,46.4],[578,49.6],[582,44.9],[586,47.3],[590,45.8],[594,48.8],[598,44.4],[602,46.6],[606,45.1],[610,48.0],[614,43.8],[618,46.0],[622,44.6],[626,47.3],[630,43.3],[634,45.5],[638,44.0],[642,46.6],[646,42.8],[650,45.0],[654,43.6],[658,46.0],[662,42.6],[666,44.6],[670,43.2],[674,45.5],[678,42.4],[682,44.1],[686,45.6],[690,43.2],[694,44.6],[698,42.8],[702,44.0]];
const p33BlackB = [[440,50.7],[444,48.4],[451,52.1],[453,46.9],[458,50.9],[461,49.8],[467,51.5],[469,48.3],[473,52.1],[478,47.0],[481,50.1],[488,48.5],[490,50.7],[494,47.1],[500,52.3],[503,48.8],[508,47.5],[510,49.2],[514,51.1],[517,45.9],[523,49.5],[527,47.5],[534,50.4],[536,47.9],[541,51.1],[544,46.5],[550,48.3],[552,49.8],[556,45.8],[561,48.9],[564,47.3],[571,50.2],[573,46.2],[577,48.3],[583,44.8],[586,48.6],[591,46.1],[593,50.0],[597,44.9],[600,47.8],[606,46.3],[610,46.9],[617,44.1],[619,47.5],[623,45.2],[628,48.2],[631,42.7],[638,46.3],[640,43.8],[644,46.9],[649,44.5],[652,42.4],[659,45.2],[661,47.5],[665,43.3],[671,45.6],[674,40.9],[679,44.4],[681,46.5],[685,42.5],[690,45.0],[693,43.6],[699,46.8],[702,41.5],[706,45.6],[711,43.1]];
const p33CoreY = [50.7,48.9,50.9,49.5,51.1,48.8,49.6,47.8,50.3,48.6,49.7,47.9,50.1,48.5,49.0,47.2,49.1,47.6,49.6,47.1,48.1,46.6,48.9,47.6,48.2,46.4,48.6,46.9,47.5,46.4,48.4,45.7,46.0,45.4,46.6,44.3,46.0,44.6,46.4,44.9,45.8,44.0,46.2,43.9,44.6,42.8,44.9,44.0,44.9,42.9,44.1,43.2];
const p33Blue = [[281,58.1],[338,56.8],[342,56.2],[360,56.2],[369,55.8],[380,55.6],[397,55.3],[410,55.2],[420,54.8],[430,54.9],
[708,47.7],[739,46.4],[745,46.6],[704,46.2],[599,39.6],[575,41.3],[636,42.8],[656,43.0],[600,48.0],[640,47.0],[520,50.0],[560,49.2],[620,53.0],[650,51.0],[680,47.0],
[440,54.3],[444,53.2],[448,54.0],[452,53.0],[456,53.8],[460,52.7],[464,53.6],[468,52.5],[472,53.4],[476,52.3],[480,53.3],[484,52.1],[488,53.1],[492,52.0],[496,52.9],[500,51.8],[504,52.8],[508,51.6],[512,52.6],[516,51.5],[520,52.4],[524,51.3],[528,52.2],[532,51.2],[536,52.1],[540,51.0],[544,51.9],[548,50.8],[552,51.7],[556,50.7],[560,51.5],[564,50.5],[568,51.4],[572,50.3],[576,51.2],[580,50.1],[584,51.0],[588,49.9],[592,50.8],[596,49.7],[600,50.6],[604,49.5],[608,50.4],[612,49.2],[616,50.1],[620,49.0],[624,49.9],[628,48.8],[632,49.6],[636,48.5],[640,49.4],[644,48.3],[648,49.1],[652,48.0],[656,48.9],[660,47.8],[664,48.6],[668,47.5],[672,48.4],[676,47.3],[680,48.1],[684,47.1],[688,47.9],[692,46.9],[696,47.6],[700,46.7],[704,47.4]];
const p33BlueB = [[442,53.8],[446,52.7],[453,54.3],[455,53.1],[460,53.9],[463,52.0],[469,53.1],[471,53.9],[475,52.4],[480,53.3],[483,51.8],[490,53.9],[492,52.3],[496,53.1],[502,51.8],[505,52.4],[510,53.1],[512,51.1],[516,52.4],[519,51.7],[525,53.2],[529,51.1],[536,52.2],[538,51.7],[543,52.4],[546,50.9],[552,52.6],[554,51.2],[558,51.7],[563,50.3],[566,51.9],[573,50.7],[575,52.1],[579,50.9],[585,51.4],[588,49.9],[593,51.5],[595,50.7],[599,49.9],[602,51.6],[608,49.9],[612,50.5],[619,49.2],[621,50.7],[625,49.8],[630,50.8],[633,49.0],[640,49.9],[642,49.2],[646,50.0],[651,48.2],[654,50.1],[661,48.5],[663,49.1],[667,48.7],[673,49.5],[676,47.7],[681,49.0],[683,48.5],[687,47.7],[692,49.5],[695,47.9],[701,48.7],[704,47.1],[708,48.1],[713,47.6]];

const blackA = [p11Black, p12Black, p13Black, p21Black, p22Black, p23Black, p31Black, p32Black, p33Black];
const blackB = [p11BlackB, p12BlackB, p13BlackB, p21BlackB, p22BlackB, p23BlackB, p31BlackB, p32BlackB, p33BlackB];
const blackCoreY = [p11CoreY, p12CoreY, p13CoreY, p21CoreY, p22CoreY, p23CoreY, p31CoreY, p32CoreY, p33CoreY];
const blueA = [p11Blue, p12Blue, p13Blue, p21Blue, p22Blue, p23Blue, p31Blue, p32Blue, p33Blue];
const blueB = [p11BlueB, p12BlueB, p13BlueB, p21BlueB, p22BlueB, p23BlueB, p31BlueB, p32BlueB, p33BlueB];

// ---- layout ----
const FONT = 'Liberation Sans';
const colLeft = [63, 376, 687];
const rowTop = [33, 168, 303];
const PW = 304, PH = 132;

const grids = [], xAxes = [], yAxes = [], series = [], graphics = [];
for (let i = 0; i < 9; i++) {
  const r = Math.floor(i / 3), c = i % 3;
  const core = coreX.map((x, k) => [x, blackCoreY[i][k]]);
  const blackData = blackA[i].concat(blackB[i], core);
  const blueData = blueA[i].concat(blueB[i]);
  grids.push({left: colLeft[c], top: rowTop[r], width: PW, height: PH, containLabel: false});
  xAxes.push({
    gridIndex: i, type: 'value', min: 253, max: 813,
    axisLine: {show: false},
    axisTick: {show: false, customValues: xGridValues},
    splitLine: {show: true, lineStyle: {color: '#ebebeb', width: 1}},
    axisLabel: {show: r === 2, customValues: xTickLabels, color: '#4d4d4d', fontSize: 14, fontFamily: FONT, margin: 4}
  });
  yAxes.push({
    gridIndex: i, type: 'value', min: 33.5, max: 61.5,
    axisLine: {show: false},
    axisTick: {show: false, customValues: yGridValues},
    splitLine: {show: true, lineStyle: {color: '#ebebeb', width: 1}},
    axisLabel: {show: c === 0, customValues: yTickLabels, color: '#4d4d4d', fontSize: 14, fontFamily: FONT, margin: 3}
  });
  series.push({
    type: 'scatter', xAxisIndex: i, yAxisIndex: i, data: blackData,
    symbol: 'circle', symbolSize: 8, silent: true,
    itemStyle: {color: 'rgba(0,0,0,0.55)'}
  });
  series.push({
    type: 'scatter', xAxisIndex: i, yAxisIndex: i, data: blueData,
    symbol: 'circle', symbolSize: 4.5, silent: true,
    itemStyle: {color: 'rgba(0,0,255,0.7)', borderColor: 'rgba(0,0,255,0.9)', borderWidth: 1}
  });
}

const stripRich = {
  m: {fontSize: 16, fontFamily: FONT, fill: '#1a1a1a', lineHeight: 17, verticalAlign: 'top'},
  s: {fontSize: 12, fontFamily: FONT, fill: '#1a1a1a', lineHeight: 9, verticalAlign: 'bottom'}
};
for (let c = 0; c < 3; c++) {
  graphics.push({
    type: 'text', x: colLeft[c] + PW / 2, y: 17,
    style: {text: '{m|μ}{s|WC}{m|: ' + colLabels[c] + '}', rich: stripRich, align: 'center', verticalAlign: 'middle'}
  });
}
for (let r = 0; r < 3; r++) {
  graphics.push({
    type: 'text', x: 998, y: rowTop[r] + PH / 2,
    style: {text: '{m|μ}{s|C}{m|: ' + rowLabels[r] + '}', rich: stripRich, align: 'left', verticalAlign: 'middle'}
  });
}
graphics.push({
  type: 'text', x: 527, y: 468,
  style: {text: xTitle, fontSize: 22, fontFamily: FONT, fill: '#000', align: 'center', verticalAlign: 'middle'}
});
graphics.push({
  type: 'text', x: 21, y: 234, rotation: Math.PI / 2,
  style: {text: yTitle, fontSize: 21, fontFamily: FONT, fill: '#000', align: 'center', verticalAlign: 'middle'}
});

const chart = echarts.init(document.getElementById('chart'), null, {renderer: 'canvas'});
chart.setOption({
  animation: false,
  backgroundColor: '#ffffff',
  grid: grids, xAxis: xAxes, yAxis: yAxes, series: series,
  graphic: graphics
});
</script>
</body>
</html>
